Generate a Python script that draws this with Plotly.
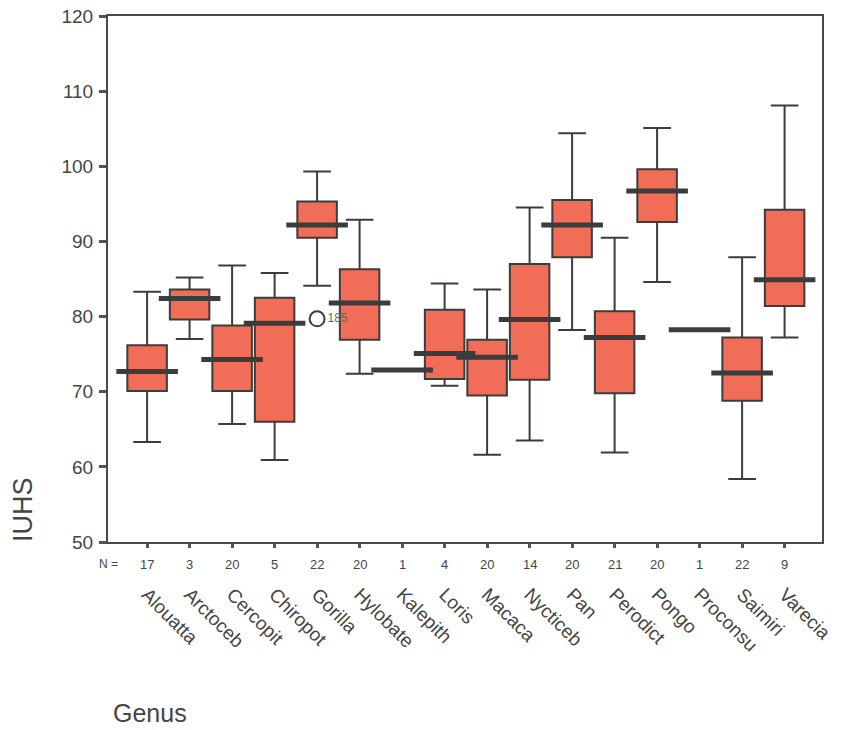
import plotly.graph_objects as go

genera = ["Alouatta", "Arctoceb", "Cercopit", "Chiropot", "Gorilla", "Hylobate", "Kalepith",
          "Loris", "Macaca", "Nycticeb", "Pan", "Perodict", "Pongo", "Proconsu", "Saimiri", "Varecia"]
n_counts = [17, 3, 20, 5, 22, 20, 1, 4, 20, 14, 20, 21, 20, 1, 22, 9]
lower_whisker = [63.3, 77.0, 65.7, 60.9, 84.1, 72.4, 72.9, 70.8, 61.6, 63.5, 78.2, 61.9, 84.6, 78.25, 58.4, 77.2]
q1 = [70.1, 79.6, 70.1, 66.0, 90.5, 76.9, 72.9, 71.7, 69.5, 71.6, 87.9, 69.8, 92.6, 78.25, 68.8, 81.4]
median = [72.7, 82.4, 74.3, 79.1, 92.2, 81.8, 72.9, 75.1, 74.6, 79.6, 92.2, 77.2, 96.7, 78.25, 72.5, 84.9]
q3 = [76.2, 83.6, 78.8, 82.5, 95.3, 86.3, 72.9, 80.9, 76.9, 87.0, 95.5, 80.7, 99.6, 78.25, 77.2, 94.2]
upper_whisker = [83.3, 85.2, 86.8, 85.8, 99.3, 92.9, 72.9, 84.4, 83.6, 94.5, 104.4, 90.5, 105.1, 78.25, 87.9, 108.1]
outlier_genus = ["Gorilla"]
outlier_value = [79.7]
outlier_label = ["185"]
y_ticks = [50, 60, 70, 80, 90, 100, 110, 120]

FONT = "Arial, Liberation Sans, sans-serif"
TXT = "#454545"
DARK = "#3a3d3d"

fig = go.Figure()
fig.add_trace(go.Box(
    x=genera, q1=q1, median=median, q3=q3,
    lowerfence=lower_whisker, upperfence=upper_whisker,
    boxpoints=False, width=0.93, whiskerwidth=0.7,
    fillcolor="#F26D57", line=dict(color=DARK, width=2),
    showlegend=False, hoverinfo="skip",
))
# thick median bars
fig.add_trace(go.Scatter(
    x=genera, y=median, mode="markers",
    marker=dict(symbol="line-ew", size=44, line=dict(color=DARK, width=5)),
    showlegend=False, hoverinfo="skip",
))
# outlier
fig.add_trace(go.Scatter(
    x=outlier_genus, y=outlier_value, mode="markers+text",
    text=outlier_label, textposition="middle right",
    textfont=dict(family=FONT, size=12, color="#666"),
    marker=dict(symbol="circle-open", size=15, line=dict(color=DARK, width=2), color=DARK),
    showlegend=False, hoverinfo="skip",
))

annotations = []
annotations.append(dict(text="N =", x=0, xref="paper", y=0, yref="paper", yshift=-22,
                        showarrow=False, xanchor="center", yanchor="middle",
                        font=dict(family=FONT, size=12, color=TXT)))
for g, n in zip(genera, n_counts):
    annotations.append(dict(text=str(n), x=g, xref="x", y=0, yref="paper", yshift=-22,
                            showarrow=False, xanchor="center", yanchor="middle",
                            font=dict(family=FONT, size=13, color=TXT)))
annotations.append(dict(text="IUHS", x=-0.119, xref="paper", y=0.061, yref="paper",
                        textangle=-90, showarrow=False, xanchor="center", yanchor="middle",
                        font=dict(family=FONT, size=27, color=TXT)))
annotations.append(dict(text="Genus", x=0.059, xref="paper", y=-0.326, yref="paper",
                        showarrow=False, xanchor="center", yanchor="middle",
                        font=dict(family=FONT, size=25, color=TXT)))

fig.update_layout(
    width=852, height=730,
    margin=dict(l=108, r=30, t=16, b=188, autoexpand=False),
    paper_bgcolor="white", plot_bgcolor="white",
    annotations=annotations,
    xaxis=dict(
        range=[-0.92, 15.88], showgrid=False, zeroline=False, automargin=False,
        showline=True, linecolor="#4a4a4a", linewidth=2, mirror=True,
        ticks="outside", ticklen=4, tickwidth=3, tickcolor="#555",
        tickangle=45, ticklabelstandoff=28,
        tickfont=dict(family=FONT, size=19, color=TXT),
    ),
    yaxis=dict(
        range=[50, 120], tickvals=y_ticks, showgrid=False, zeroline=False, automargin=False,
        showline=True, linecolor="#4a4a4a", linewidth=2, mirror=True,
        ticks="outside", ticklen=7, tickwidth=3, tickcolor="#555",
        ticklabelstandoff=2, ticklabeloverflow="allow",
        tickfont=dict(family=FONT, size=19, color=TXT),
    ),
)

# remove the default 8px page margin so the 852x730 figure fills the window exactly
fig.write_html("out.html",
               config={"displayModeBar": False},
               post_script="document.body.style.margin='0';document.body.style.overflow='hidden';")
